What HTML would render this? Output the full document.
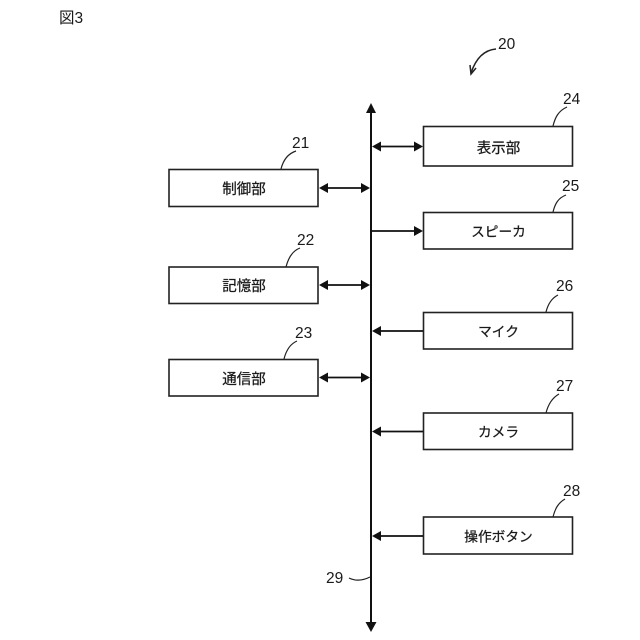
<!DOCTYPE html>
<html lang="ja">
<head>
<meta charset="utf-8">
<title>図3</title>
<style>
html,body{margin:0;padding:0;background:#fff;width:640px;height:640px;overflow:hidden}
svg{display:block}
text{font-family:"Liberation Sans","Noto Sans CJK JP",sans-serif;fill:#1a1a1a}
.n{font-size:15.5px}
.l{font-size:14.5px;text-anchor:middle;stroke:#1a1a1a;stroke-width:.25}
.k{font-size:13.7px}
.b{fill:#fff;stroke:#222;stroke-width:1.6}
.c{fill:none;stroke:#222;stroke-width:1.2}
.w{fill:none;stroke:#111;stroke-width:1.8}
.h{fill:#111}
</style>
</head>
<body>
<svg width="640" height="640" viewBox="0 0 640 640" xmlns="http://www.w3.org/2000/svg">
<text x="59" y="23" font-size="15.5">図3</text>

<!-- bus -->
<line x1="371" y1="108" x2="371" y2="626" stroke="#111" stroke-width="2"/>
<polygon class="h" points="371,103 366,113 376,113"/>
<polygon class="h" points="371,632 365.5,622 376.5,622"/>

<!-- boxes -->
<rect class="b" x="169" y="169.5" width="149" height="37"/>
<rect class="b" x="169" y="267" width="149" height="36.5"/>
<rect class="b" x="169" y="359.5" width="149" height="36.5"/>
<rect class="b" x="423.5" y="126.5" width="149" height="39.5"/>
<rect class="b" x="423.5" y="212.5" width="149" height="36.5"/>
<rect class="b" x="423.5" y="312.5" width="149" height="36.5"/>
<rect class="b" x="423.5" y="413" width="149" height="36.5"/>
<rect class="b" x="423.5" y="517" width="149" height="37"/>

<!-- box labels -->
<text class="l" x="244" y="194">制御部</text>
<text class="l" x="244" y="291">記憶部</text>
<text class="l" x="244" y="384">通信部</text>
<text class="l" x="498.5" y="153">表示部</text>
<text class="l k" x="498.5" y="236.5">スピーカ</text>
<text class="l k" x="498.5" y="336.5">マイク</text>
<text class="l k" x="498.5" y="437">カメラ</text>
<text class="l k" x="498.5" y="541.5">操作ボタン</text>

<!-- connectors -->
<line class="w" x1="325" y1="188" x2="364" y2="188"/>
<polygon class="h" points="319,188 328,183 328,193"/>
<polygon class="h" points="370,188 361,183 361,193"/>

<line class="w" x1="325" y1="285" x2="364" y2="285"/>
<polygon class="h" points="319,285 328,280 328,290"/>
<polygon class="h" points="370,285 361,280 361,290"/>

<line class="w" x1="325" y1="377.5" x2="364" y2="377.5"/>
<polygon class="h" points="319,377.5 328,372.5 328,382.5"/>
<polygon class="h" points="370,377.5 361,372.5 361,382.5"/>

<line class="w" x1="378" y1="146.5" x2="416" y2="146.5"/>
<polygon class="h" points="372,146.5 381,141.5 381,151.5"/>
<polygon class="h" points="423,146.5 414,141.5 414,151.5"/>

<line class="w" x1="371" y1="231" x2="416" y2="231"/>
<polygon class="h" points="423,231 414,226 414,236"/>

<line class="w" x1="378" y1="331" x2="423" y2="331"/>
<polygon class="h" points="372,331 381,326 381,336"/>

<line class="w" x1="378" y1="431.5" x2="423" y2="431.5"/>
<polygon class="h" points="372,431.5 381,426.5 381,436.5"/>

<line class="w" x1="378" y1="536" x2="423" y2="536"/>
<polygon class="h" points="372,536 381,531 381,541"/>

<!-- leaders -->
<path class="c" d="M281,169 C283,161 287,154 296,151"/>
<path class="c" d="M286,267 C288,259 292,251 300,248"/>
<path class="c" d="M284,359 C286,351 290,344 297,341"/>
<path class="c" d="M553,126 C555,118 558,111 567,107"/>
<path class="c" d="M553,212 C555,204 558,198 566,195"/>
<path class="c" d="M546,312 C548,304 552,298 558,295"/>
<path class="c" d="M546,413 C548,405 552,398 559,394"/>
<path class="c" d="M553,517 C555,509 558,503 565,499"/>
<path class="c" d="M349,578 C355,581 362,581 370,577"/>

<!-- 20 arrow -->
<path d="M496,49 C484,50 476,58 471,73" fill="none" stroke="#222" stroke-width="1.5"/>
<path d="M476,68 L471,74 L470,65" fill="none" stroke="#222" stroke-width="1.5"/>

<!-- reference numbers -->
<text class="n" x="498" y="49">20</text>
<text class="n" x="292" y="148">21</text>
<text class="n" x="297" y="245">22</text>
<text class="n" x="295" y="338">23</text>
<text class="n" x="563" y="104">24</text>
<text class="n" x="562" y="191">25</text>
<text class="n" x="556" y="291">26</text>
<text class="n" x="556" y="391">27</text>
<text class="n" x="563" y="496">28</text>
<text class="n" x="326" y="583">29</text>
</svg>
</body>
</html>
